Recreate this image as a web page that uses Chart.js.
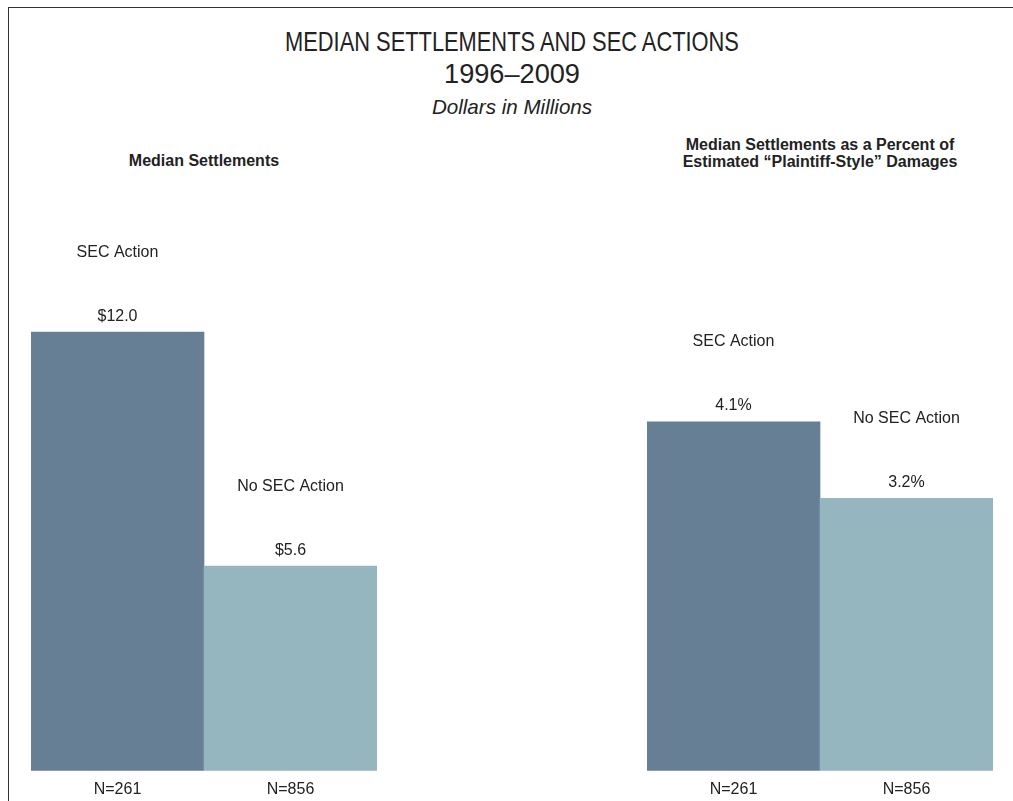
<!DOCTYPE html>
<html lang="en">
<head>
    <meta charset="UTF-8">
    <title>Median Settlements and SEC Actions</title>
    <script src="https://cdn.jsdelivr.net/npm/chart.js"></script>
    <style>
        body { margin: 0; background: #fff; font-family: "Liberation Sans", Arial, sans-serif; color: #222; overflow: hidden; }
        .frame { position: absolute; left: 8px; top: 7px; width: 1010px; height: 800px; border-left: 1.5px solid #333; border-top: 1.5px solid #333; }
        .t { position: absolute; text-align: center; white-space: nowrap; }
        .big { font-size: 28px; line-height: 32px; color: #222; }
        .panel { position: absolute; }
    </style>
</head>
<body>
    <div class="frame"></div>

    <!-- Titles -->
    <div class="t big" style="left:0; width:1024px; top:26px; transform:scaleX(0.78);">MEDIAN SETTLEMENTS AND SEC ACTIONS</div>
    <div class="t big" style="left:0; width:1024px; top:58px; transform:scaleX(0.97);">1996–2009</div>
    <div class="t" style="left:0; width:1024px; top:95px; font-size:20.6px; line-height:24px; font-style:italic;">Dollars in Millions</div>

    <div class="t" style="left:104px; width:200px; top:152px; font-size:16px; line-height:18px; font-weight:bold;">Median Settlements</div>
    <div class="t" style="left:620px; width:400px; top:136px; font-size:16px; line-height:17px; font-weight:bold;">Median Settlements as a Percent of<br>Estimated “Plaintiff-Style” Damages</div>

    <div class="panel" style="left:31px; top:186px; width:346px; height:622px;"><canvas id="leftChart"></canvas></div>
    <div class="panel" style="left:647px; top:186px; width:346px; height:622px;"><canvas id="rightChart"></canvas></div>

    <script>
        // Data
        const groups = ['N=261', 'N=856'];
        const seriesNames = ['SEC Action', 'No SEC Action'];
        const settlements = [12.0, 5.6];          // $ millions
        const pctOfDamages = [4.1, 3.2];          // percent
        const barColors = ['#667f95', '#95b5bf'];

        // draws value above each bar and series name higher up
        const barLabels = {
            id: 'barLabels',
            afterDatasetsDraw(chart, args, opts) {
                const ctx = chart.ctx;
                const meta = chart.getDatasetMeta(0);
                ctx.save();
                ctx.fillStyle = '#222';
                ctx.font = '16px "Liberation Sans", Arial, sans-serif';
                ctx.textAlign = 'center';
                ctx.textBaseline = 'middle';
                meta.data.forEach((bar, i) => {
                    const v = chart.data.datasets[0].data[i];
                    ctx.fillText(opts.fmt(v), bar.x, bar.y - 16);
                    ctx.fillText(seriesNames[i], bar.x, bar.y - 80);
                });
                ctx.restore();
            }
        };

        function makeChart(id, values, maxY, fmt) {
            return new Chart(document.getElementById(id), {
                type: 'bar',
                data: {
                    labels: groups,
                    datasets: [{
                        data: values,
                        backgroundColor: barColors,
                        barPercentage: 1.0,
                        categoryPercentage: 1.0
                    }]
                },
                options: {
                    responsive: true,
                    maintainAspectRatio: false,
                    animation: false,
                    layout: { padding: 0 },
                    plugins: {
                        legend: { display: false },
                        tooltip: { enabled: false },
                        barLabels: { fmt: fmt }
                    },
                    scales: {
                        x: {
                            grid: { display: false, drawTicks: false },
                            border: { display: false },
                            ticks: { color: '#222', font: { size: 16, family: '"Liberation Sans", Arial, sans-serif' }, padding: 9 }
                        },
                        y: { display: false, min: 0, max: maxY }
                    }
                },
                plugins: [barLabels]
            });
        }

        makeChart('leftChart', settlements, 16, v => '$' + v.toFixed(1));
        makeChart('rightChart', pctOfDamages, 6.87, v => v.toFixed(1) + '%');
    </script>
</body>
</html>
